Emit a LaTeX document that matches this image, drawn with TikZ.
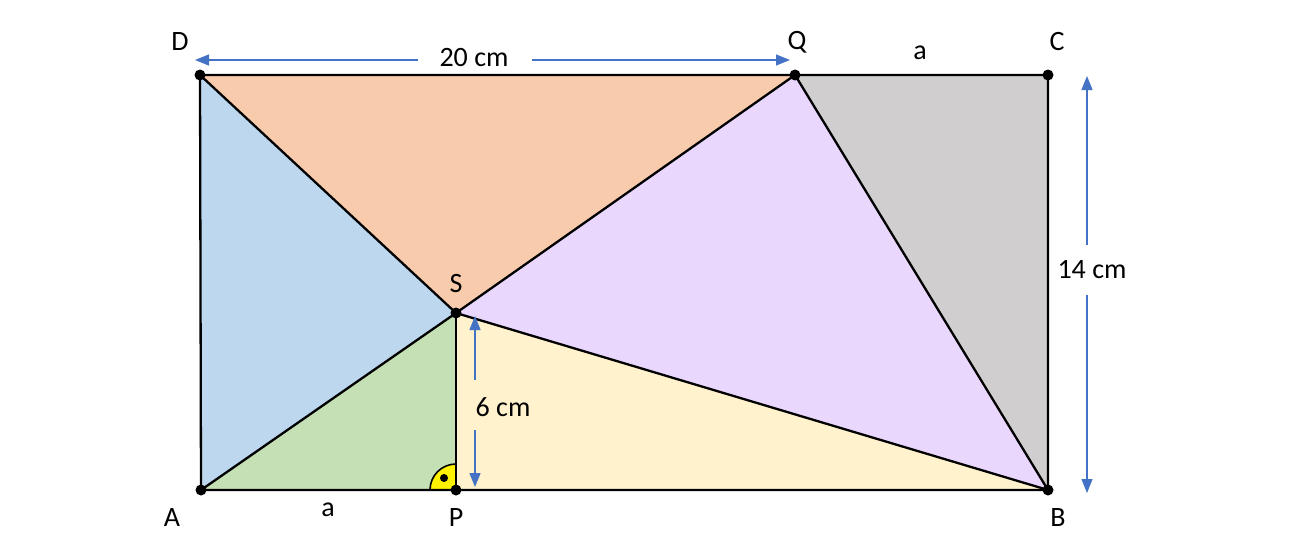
\documentclass[tikz,border=0pt]{standalone}
\usepackage{fontspec}
\setmainfont{Carlito}
\usetikzlibrary{arrows.meta}
\definecolor{cOr}{HTML}{F8CBAD}
\definecolor{cBl}{HTML}{BDD7EE}
\definecolor{cGr}{HTML}{C5E0B4}
\definecolor{cYe}{HTML}{FFF2CC}
\definecolor{cPu}{HTML}{EAD7FE}
\definecolor{cGy}{HTML}{D0CECE}
\definecolor{cAr}{HTML}{4472C4}
\begin{document}
\begin{tikzpicture}[x=1pt,y=-1pt,
  edge/.style={draw=black,line width=2.3pt,line join=round},
  pt/.style={circle,fill=black,inner sep=0pt,minimum size=11pt},
  lbl/.style={font=\fontsize{28}{32}\selectfont,inner sep=0pt},
  dim/.style={draw=cAr,line width=1.3pt,-{Triangle[length=14pt,width=11pt]}}]
\useasboundingbox (0,0) rectangle (1299,557);
\coordinate (A) at (201,490);
\coordinate (P) at (456,490);
\coordinate (B) at (1048,490);
\coordinate (C) at (1048,75);
\coordinate (Q) at (795,75);
\coordinate (D) at (200,75);
\coordinate (S) at (456,313);
% fills
\fill[cBl] (A) -- (D) -- (S) -- cycle;
\fill[cOr] (D) -- (Q) -- (S) -- cycle;
\fill[cGr] (A) -- (S) -- (P) -- cycle;
\fill[cYe] (P) -- (S) -- (B) -- cycle;
\fill[cPu] (S) -- (Q) -- (B) -- cycle;
\fill[cGy] (Q) -- (C) -- (B) -- cycle;
% right angle mark
\draw[line width=1.6pt,fill=yellow] (P) -- ++(-26,0) arc[start angle=180,end angle=270,radius=26] -- cycle;
% edges
\draw[edge] (A) -- (B) -- (C) -- (D) -- cycle;
\draw[edge] (D) -- (S) -- (Q) -- (B) -- (S) -- (A);
\draw[edge] (S) -- (P);
\node[circle,fill=black,inner sep=0pt,minimum size=8pt] (rdot) at (444,478) {};
% points
\foreach \p in {A,P,B,C,Q,D,S} \node[pt] (n\p) at (\p) {};
% labels
\node[lbl] (lD) at (180,42) {D};
\node[lbl] (lQ) at (797,42) {Q};
\node[lbl] (lC) at (1057,42) {C};
\node[lbl] (la1) at (920,53) {a};
\node[lbl] (lS) at (456,284) {S};
\node[lbl] (lA) at (172,518) {A};
\node[lbl] (la2) at (328,510) {a};
\node[lbl] (lP) at (456,518) {P};
\node[lbl] (lB) at (1058,518) {B};
% dimensions
\node[lbl] (t20) at (474,58) {20 cm};
\coordinate (h1) at (418,60);
\coordinate (h2) at (532,60);
\coordinate (hL) at (195,60);
\coordinate (hR) at (790,60);
\draw[dim] (h1) -- (hL);
\draw[dim] (h2) -- (hR);
\node[lbl] (t14) at (1092,270) {14 cm};
\coordinate (v1) at (1087,245);
\coordinate (v2) at (1087,295);
\coordinate (vT) at (1087,76);
\coordinate (vB) at (1087,493);
\draw[dim] (v1) -- (vT);
\draw[dim] (v2) -- (vB);
\node[lbl] (t6) at (503,407) {6 cm};
\coordinate (w1) at (475,380);
\coordinate (w2) at (475,430);
\coordinate (wT) at (475,316);
\coordinate (wB) at (475,487);
\draw[dim] (w1) -- (wT);
\draw[dim] (w2) -- (wB);
\end{tikzpicture}
\end{document}
